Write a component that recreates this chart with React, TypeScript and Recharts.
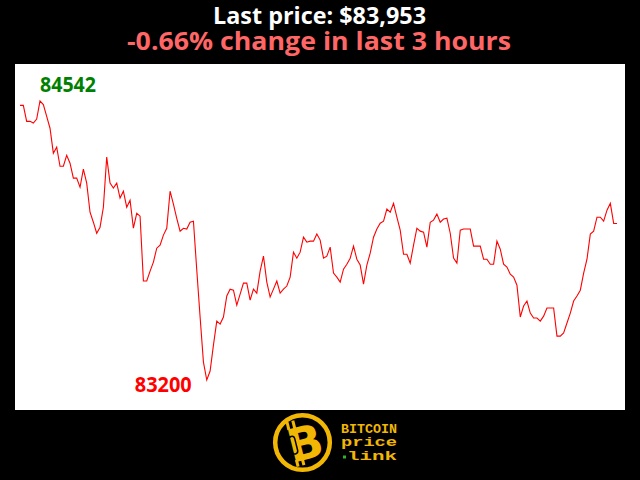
import React from 'react'
import { LineChart, Line, XAxis, YAxis, ReferenceDot } from 'recharts'

// one price per minute, last 3 hours
const prices = [
  84521, 84521, 84444, 84444, 84436, 84455, 84542, 84525, 84468, 84411,
  84291, 84320, 84228, 84228, 84281, 84243, 84171, 84171, 84127, 84214,
  84147, 84007, 83959, 83906, 83935, 84031, 84272, 84147, 84123, 84147,
  84075, 84108, 84031, 84065, 83930, 84002, 83988, 83676, 83676, 83724,
  83767, 83834, 83849, 83897, 83930, 84108, 84046, 83978, 83916, 83930,
  83926, 83959, 83964, 83729, 83503, 83286, 83200, 83243, 83368, 83483,
  83469, 83503, 83604, 83637, 83632, 83560, 83613, 83666, 83666, 83584,
  83637, 83618, 83724, 83796, 83671, 83599, 83637, 83676, 83618, 83637,
  83652, 83695, 83815, 83786, 83815, 83887, 83863, 83868, 83868, 83902,
  83873, 83786, 83796, 83839, 83714, 83695, 83671, 83733, 83757, 83786,
  83844, 83781, 83753, 83661, 83753, 83810, 83887, 83926, 83954, 83964,
  84022, 84007, 84050, 83983, 83921, 83805, 83805, 83762, 83849, 83930,
  83916, 83911, 83839, 83959, 83969, 83998, 83959, 83974, 83978, 83906,
  83786, 83762, 83921, 83926, 83926, 83926, 83844, 83844, 83844, 83781,
  83781, 83757, 83757, 83868, 83829, 83757, 83743, 83709, 83695, 83656,
  83503, 83556, 83580, 83522, 83498, 83498, 83483, 83507, 83546, 83546,
  83546, 83411, 83411, 83426, 83474, 83522, 83580, 83604, 83632, 83714,
  83781, 83902, 83916, 83983, 83983, 83964, 84017, 84050, 83953, 83953,
]

const lastPrice = '$83,953'
const changeText = '-0.66% change in last 3 hours'
const maxPrice = 84542
const minPrice = 83200

const GOLD = '#f2b705'

const data = prices.map((price, i) => ({ t: i, price }))
const maxIdx = prices.indexOf(maxPrice)
const minIdx = prices.indexOf(minPrice)

function MaxLabel(props: any) {
  return (
    <text x={props.cx} y={props.cy - 9} fill="#008000" fontSize={21} fontWeight="bold"
      fontFamily="'Open Sans', sans-serif" textLength={56} lengthAdjust="spacingAndGlyphs">{maxPrice}</text>
  )
}

function MinLabel(props: any) {
  return (
    <text x={props.cx - 72} y={props.cy + 12} fill="#ff0000" fontSize={21} fontWeight="bold"
      fontFamily="'Open Sans', sans-serif" textLength={57} lengthAdjust="spacingAndGlyphs">{minPrice}</text>
  )
}

function Logo() {
  return (
    <g>
      <circle cx={302.5} cy={442.5} r={27.3} fill="#000" stroke={GOLD} strokeWidth={4.5} />
      <g transform="rotate(-14 302 443)">
        <rect x={291} y={419} width={3} height={8} fill={GOLD} />
        <rect x={297} y={419} width={3} height={8} fill={GOLD} />
        <rect x={291} y={458} width={3} height={7} fill={GOLD} />
        <rect x={297} y={458} width={3} height={7} fill={GOLD} />
        <text x={305} y={460} textAnchor="middle" fontSize={46} fontWeight={900} fill={GOLD}
          fontFamily="'DejaVu Sans', sans-serif">B</text>
        <rect x={290} y={434} width={6} height={18} rx={3} fill="none" stroke="#000" strokeWidth={1.5} />
      </g>
      <g fontFamily="'Liberation Mono', monospace" fontWeight="bold" fontSize={12} fill={GOLD}>
        <text x={341} y={433} textLength={56} lengthAdjust="spacingAndGlyphs">BITCOIN</text>
        <text x={341} y={446} textLength={56} lengthAdjust="spacingAndGlyphs">price</text>
        <text x={347} y={460} textLength={50} lengthAdjust="spacingAndGlyphs">link</text>
      </g>
      <rect x={343} y={455.5} width={3} height={3} fill="#2bb52b" />
    </g>
  )
}

export default function App() {
  return (
    <div style={{ position: 'absolute', left: 0, top: 0, width: 640, height: 480, background: '#000' }}>
      <div style={{ position: 'absolute', left: 15, top: 64, width: 610, height: 346, background: '#fff' }}>
        <LineChart width={610} height={346} data={data} margin={{ top: 37, right: 8, bottom: 30, left: 5 }}>
          <XAxis dataKey="t" type="number" domain={['dataMin', 'dataMax']} hide />
          <YAxis type="number" domain={[minPrice, maxPrice]} hide />
          <Line type="linear" dataKey="price" stroke="#ff0000" strokeWidth={1.1} dot={false}
            isAnimationActive={false} />
          <ReferenceDot x={maxIdx} y={maxPrice} r={0} shape={MaxLabel} />
          <ReferenceDot x={minIdx} y={minPrice} r={0} shape={MinLabel} />
        </LineChart>
      </div>
      <svg width={640} height={480} style={{ position: 'absolute', left: 0, top: 0, pointerEvents: 'none' }}>
        <text x={213} y={24} fill="#fff" fontSize={23} fontWeight="bold"
          fontFamily="'Open Sans', sans-serif" textLength={213} lengthAdjust="spacingAndGlyphs">
          {`Last price: ${lastPrice}`}
        </text>
        <text x={127} y={50} fill="#ff6666" fontSize={24.5} fontWeight="bold"
          fontFamily="'Open Sans', sans-serif" textLength={384} lengthAdjust="spacingAndGlyphs">
          {changeText}
        </text>
        <Logo />
      </svg>
    </div>
  )
}
